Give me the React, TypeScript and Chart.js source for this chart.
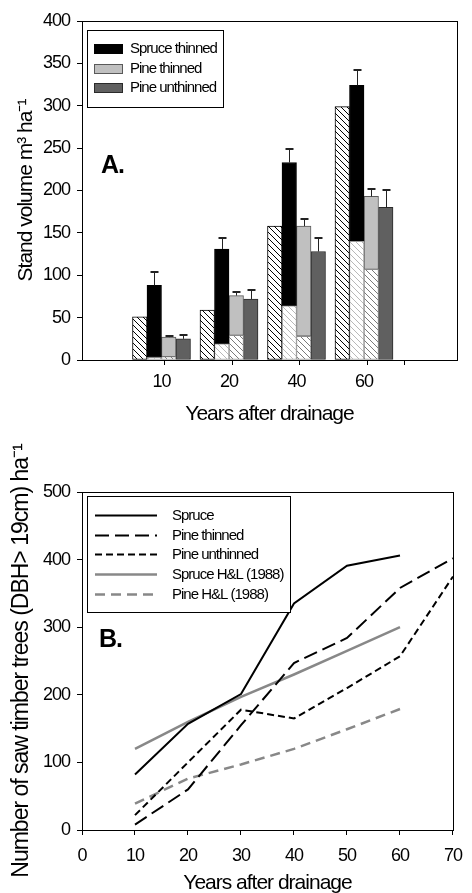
import React, { useEffect, useRef } from 'react';
import { Chart, registerables } from 'chart.js';

Chart.register(...registerables);

// ---------------- Panel A data (stand volume, m3/ha) ----------------
const categoriesA = ['10', '20', '40', '60'];
const hatchedBar = [51, 59, 158, 299];
const spruceThinnedTotal = [88, 131, 233, 324];
const spruceThinnedLower = [3, 19, 64, 140];
const spruceThinnedErr = [16, 13, 16, 18];
const pineThinnedTotal = [27, 76, 158, 193];
const pineThinnedLower = [4, 29, 28, 107];
const pineThinnedErr = [1, 4, 8, 9];
const pineUnthinnedTotal = [25, 72, 128, 180];
const pineUnthinnedErr = [4, 11, 16, 21];
const legendLabelsA = ['Spruce thinned', 'Pine thinned', 'Pine unthinned'];
const yTitleA = 'Stand volume m³ ha⁻¹';
const xTitle = 'Years after drainage';
const panelTagA = 'A.';

// ---------------- Panel B data (saw timber trees per ha) ----------------
const yearsB = [10, 20, 30, 40, 50, 60, 70];
const spruceB = [82, 157, 201, 335, 391, 406];
const pineThinnedB = [8, 60, 155, 247, 284, 358, 402];
const pineUnthinnedB = [22, 100, 178, 165, 210, 257, 375];
const spruceHLB = [120, 160, 197, 230, 265, 300];
const pineHLB = [39, 76, 97, 120, 149, 179];
const legendLabelsB = ['Spruce', 'Pine thinned', 'Pine unthinned', 'Spruce H&L (1988)', 'Pine H&L (1988)'];
const yTitleB = 'Number of saw timber trees (DBH> 19cm) ha⁻¹';
const panelTagB = 'B.';

const FONT = '"Liberation Sans", Arial, Helvetica, sans-serif';
const SPACING = '-1px';

function hatch(ctx: any, line: string, bg: string, size = 6, lw = 1) {
  const c = document.createElement('canvas');
  c.width = size;
  c.height = size;
  const g = c.getContext('2d') as CanvasRenderingContext2D;
  g.fillStyle = bg;
  g.fillRect(0, 0, size, size);
  g.strokeStyle = line;
  g.lineWidth = lw;
  g.beginPath();
  g.moveTo(-1, -1);
  g.lineTo(size + 1, size + 1);
  g.moveTo(size - 1, -1);
  g.lineTo(size + 1, 1);
  g.moveTo(-1, size - 1);
  g.lineTo(1, size + 1);
  g.stroke();
  return ctx.createPattern(c, 'repeat');
}

const tightText = {
  id: 'tightText',
  beforeUpdate(chart: any) {
    chart.ctx.letterSpacing = SPACING;
  },
  beforeDraw(chart: any) {
    chart.ctx.letterSpacing = SPACING;
  },
};

const frame = {
  id: 'frame',
  afterDraw(chart: any) {
    const { ctx, chartArea: a } = chart;
    ctx.save();
    ctx.strokeStyle = '#000';
    ctx.lineWidth = 1;
    ctx.strokeRect(Math.round(a.left) + 0.5, Math.round(a.top) + 0.5, Math.round(a.right - a.left), Math.round(a.bottom - a.top));
    ctx.restore();
  },
};

const errorBars = {
  id: 'errorBars',
  afterDatasetsDraw(chart: any) {
    const ctx = chart.ctx;
    const y = chart.scales.y;
    chart.data.datasets.forEach((d: any, di: number) => {
      if (!d.errPlus) return;
      const meta = chart.getDatasetMeta(di);
      meta.data.forEach((el: any, i: number) => {
        const top = y.getPixelForValue(d.errBase[i]);
        const end = y.getPixelForValue(d.errBase[i] + d.errPlus[i]);
        const x = Math.round(el.x) + 0.5;
        ctx.save();
        ctx.strokeStyle = '#222';
        ctx.lineWidth = 1;
        ctx.beginPath();
        ctx.moveTo(x, top);
        ctx.lineTo(x, end);
        ctx.stroke();
        ctx.lineWidth = 2;
        ctx.beginPath();
        ctx.moveTo(x - 4, Math.round(end));
        ctx.lineTo(x + 4, Math.round(end));
        ctx.stroke();
        ctx.restore();
      });
    });
  },
};

const legendA = {
  id: 'legendA',
  afterDraw(chart: any) {
    const ctx = chart.ctx;
    ctx.save();
    ctx.letterSpacing = SPACING;
    ctx.strokeStyle = '#000';
    ctx.lineWidth = 1;
    ctx.fillStyle = '#fff';
    ctx.fillRect(87.5, 30.5, 136, 77);
    ctx.strokeRect(87.5, 30.5, 136, 77);
    const items = chart.data.datasets.filter((d: any) => d.inLegend);
    items.forEach((d: any, i: number) => {
      const cy = Math.round(49 + i * 19.5);
      ctx.fillStyle = d.backgroundColor;
      ctx.fillRect(94, cy - 5, 29, 10);
      ctx.strokeStyle = d.borderColor;
      ctx.strokeRect(94.5, cy - 4.5, 28, 9);
      ctx.fillStyle = '#000';
      ctx.font = '15px ' + FONT;
      ctx.textBaseline = 'middle';
      ctx.textAlign = 'left';
      ctx.fillText(d.label, 130, cy);
    });
    ctx.font = 'bold 25px ' + FONT;
    ctx.textBaseline = 'middle';
    ctx.fillStyle = '#000';
    ctx.fillText(panelTagA, 101, 166);
    ctx.restore();
  },
};

const legendB = {
  id: 'legendB',
  afterDraw(chart: any) {
    const ctx = chart.ctx;
    ctx.save();
    ctx.letterSpacing = SPACING;
    ctx.fillStyle = '#fff';
    ctx.fillRect(87.5, 66.5, 203, 116);
    ctx.strokeStyle = '#000';
    ctx.lineWidth = 1;
    ctx.strokeRect(87.5, 66.5, 203, 116);
    chart.data.datasets.forEach((d: any, i: number) => {
      const cy = Math.round(85 + i * 19.7) + 0.5;
      ctx.save();
      ctx.strokeStyle = d.borderColor;
      ctx.lineWidth = d.borderWidth;
      ctx.setLineDash(d.borderDash || []);
      ctx.beginPath();
      ctx.moveTo(95, cy);
      ctx.lineTo(157, cy);
      ctx.stroke();
      ctx.restore();
      ctx.fillStyle = '#000';
      ctx.font = '15px ' + FONT;
      ctx.textBaseline = 'middle';
      ctx.textAlign = 'left';
      ctx.fillText(d.label, 172, cy);
    });
    ctx.font = 'bold 25px ' + FONT;
    ctx.textBaseline = 'middle';
    ctx.fillStyle = '#000';
    ctx.fillText(panelTagB, 99, 210);
    ctx.restore();
  },
};

const tickFont = { family: FONT, size: 18 };
const titleFont = { family: FONT, size: 21 };
const titleFontB = { family: FONT, size: 23 };

function configA(canvas: HTMLCanvasElement): any {
  const ctx = canvas.getContext('2d');
  const hatchBlack = hatch(ctx, '#000', '#fff', 6, 1);
  const hatchLight = hatch(ctx, '#b8b8b8', '#fff', 6, 1);
  const hatchMid = hatch(ctx, '#7a7a7a', '#fff', 6, 1);
  const pos = (i: number) => i + 0.9;
  const pts = (arr: number[]) => arr.map((v, i) => ({ x: pos(i), y: v }));
  const spruceUpper = spruceThinnedTotal.map((t, i) => t - spruceThinnedLower[i]);
  const pineUpper = pineThinnedTotal.map((t, i) => t - pineThinnedLower[i]);
  const common = { borderWidth: 1, borderSkipped: false, barThickness: 14.5 };
  return {
    type: 'bar',
    data: {
      datasets: [
        { ...common, label: '', data: pts(hatchedBar), backgroundColor: hatchBlack, borderColor: '#000', stack: 'h' },
        { ...common, label: '', data: pts(spruceThinnedLower), backgroundColor: hatchLight, borderColor: '#9a9a9a', stack: 's' },
        {
          ...common, label: legendLabelsA[0], data: pts(spruceUpper), backgroundColor: '#000', borderColor: '#000', stack: 's',
          inLegend: true, errBase: spruceThinnedTotal, errPlus: spruceThinnedErr,
        },
        { ...common, label: '', data: pts(pineThinnedLower), backgroundColor: hatchMid, borderColor: '#8a8a8a', stack: 'p' },
        {
          ...common, label: legendLabelsA[1], data: pts(pineUpper), backgroundColor: '#c0c0c0', borderColor: '#5a5a5a', stack: 'p',
          inLegend: true, errBase: pineThinnedTotal, errPlus: pineThinnedErr,
        },
        {
          ...common, label: legendLabelsA[2], data: pts(pineUnthinnedTotal), backgroundColor: '#606060', borderColor: '#2a2a2a', stack: 'u',
          inLegend: true, errBase: pineUnthinnedTotal, errPlus: pineUnthinnedErr,
        },
      ],
    },
    options: {
      animation: false,
      responsive: false,
      layout: { padding: { top: 21, right: 15, left: 0, bottom: 0 } },
      plugins: { legend: { display: false }, tooltip: { enabled: false } },
      scales: {
        x: {
          type: 'linear',
          min: 0,
          max: 5,
          afterBuildTicks: (s: any) => {
            const t: number[] = [];
            for (let i = 0; i <= 5; i++) t.push(i);
            categoriesA.forEach((_, i) => t.push(pos(i)));
            t.sort((a, b) => a - b);
            s.ticks = t.map((v) => ({ value: v }));
          },
          afterFit: (s: any) => {
            s.height = 70;
          },
          ticks: {
            autoSkip: false,
            maxRotation: 0,
            color: '#000',
            font: tickFont,
            padding: 6,
            callback: (v: number) => (Number.isInteger(v) ? '' : categoriesA[Math.round(v - 0.9)]),
          },
          grid: {
            drawOnChartArea: false,
            tickLength: 5,
            color: '#000',
            tickColor: (c: any) => (c.tick && Number.isInteger(c.tick.value) ? '#000' : 'rgba(0,0,0,0)'),
          },
          border: { color: '#000', width: 1 },
          title: { display: true, text: xTitle, color: '#000', font: titleFont, padding: { top: 0, bottom: 3 } },
        },
        y: {
          min: 0,
          max: 400,
          afterFit: (s: any) => {
            s.width = 82;
          },
          ticks: { stepSize: 50, color: '#000', font: tickFont, padding: 7 },
          grid: { drawOnChartArea: false, tickLength: 5, color: '#000' },
          border: { color: '#000', width: 1 },
          title: { display: true, text: yTitleA, color: '#000', font: titleFont, padding: { top: 14, bottom: 0 } },
        },
      },
    },
    plugins: [tightText, errorBars, frame, legendA],
  };
}

function configB(): any {
  const pts = (arr: number[]) => arr.map((v, i) => ({ x: yearsB[i], y: v }));
  const line = { pointRadius: 0, fill: false, tension: 0 };
  return {
    type: 'line',
    data: {
      datasets: [
        { ...line, label: legendLabelsB[0], data: pts(spruceB), borderColor: '#000', borderWidth: 2 },
        { ...line, label: legendLabelsB[1], data: pts(pineThinnedB), borderColor: '#000', borderWidth: 2, borderDash: [14, 6] },
        { ...line, label: legendLabelsB[2], data: pts(pineUnthinnedB), borderColor: '#000', borderWidth: 2, borderDash: [7, 4] },
        { ...line, label: legendLabelsB[3], data: pts(spruceHLB), borderColor: '#888888', borderWidth: 2.5 },
        { ...line, label: legendLabelsB[4], data: pts(pineHLB), borderColor: '#888888', borderWidth: 2.5, borderDash: [10, 6] },
      ],
    },
    options: {
      animation: false,
      responsive: false,
      layout: { padding: { top: 62, right: 12, left: 0, bottom: 0 } },
      plugins: { legend: { display: false }, tooltip: { enabled: false } },
      scales: {
        x: {
          type: 'linear',
          min: 0,
          max: 70,
          afterFit: (s: any) => {
            s.height = 63;
          },
          ticks: { stepSize: 10, autoSkip: false, maxRotation: 0, color: '#000', font: tickFont, padding: 10 },
          grid: { drawOnChartArea: false, tickLength: 5, color: '#000' },
          border: { color: '#000', width: 1 },
          title: { display: true, text: xTitle, color: '#000', font: titleFont, padding: { top: 0, bottom: -3 } },
        },
        y: {
          min: 0,
          max: 500,
          afterFit: (s: any) => {
            s.width = 82;
          },
          ticks: { stepSize: 100, color: '#000', font: tickFont, padding: 7 },
          grid: { drawOnChartArea: false, tickLength: 5, color: '#000' },
          border: { color: '#000', width: 1 },
          title: { display: true, text: yTitleB, color: '#000', font: titleFontB, padding: { top: 8, bottom: 0 } },
        },
      },
    },
    plugins: [tightText, frame, legendB],
  };
}

export default function App() {
  const refA = useRef<HTMLCanvasElement>(null);
  const refB = useRef<HTMLCanvasElement>(null);
  useEffect(() => {
    const ca = refA.current as HTMLCanvasElement;
    const cb = refB.current as HTMLCanvasElement;
    const a = new Chart(ca, configA(ca));
    const b = new Chart(cb, configB());
    return () => {
      a.destroy();
      b.destroy();
    };
  }, []);
  return (
    <div style={{ position: 'absolute', left: 0, top: 0, width: 472, height: 893, background: '#fff', overflow: 'hidden' }}>
      <canvas ref={refA} width={472} height={430} style={{ position: 'absolute', left: 0, top: 0, width: 472, height: 430 }} />
      <canvas ref={refB} width={472} height={463} style={{ position: 'absolute', left: 0, top: 430, width: 472, height: 463 }} />
    </div>
  );
}
